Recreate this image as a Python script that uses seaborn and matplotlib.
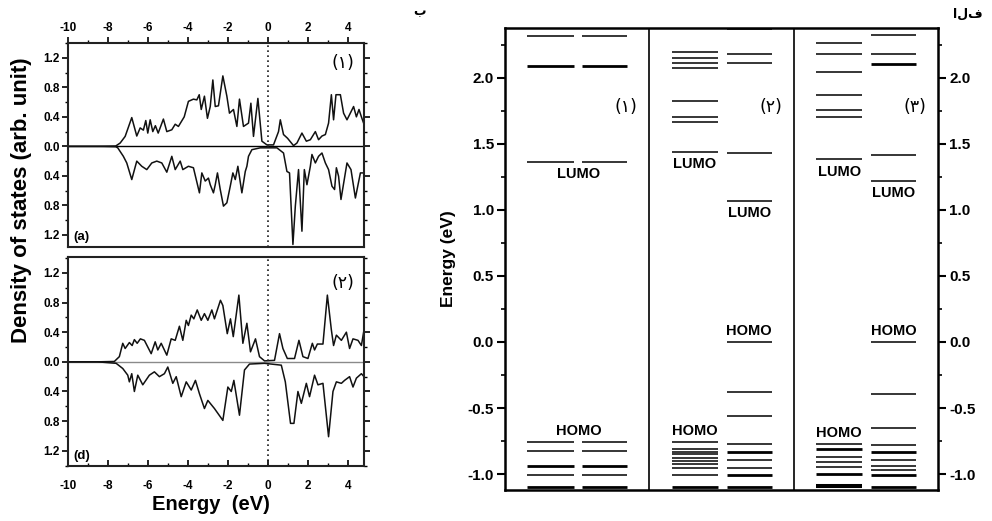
import numpy as np
import pandas as pd
import matplotlib
matplotlib.use("Agg")
import matplotlib.pyplot as plt
import seaborn as sns
from matplotlib.ticker import MultipleLocator, FixedLocator, FixedFormatter

sns.set_theme(style="ticks")
plt.rcParams['font.family'] = ['Liberation Sans', 'DejaVu Sans']
plt.rcParams['font.weight'] = 'bold'
plt.rcParams['axes.labelweight'] = 'bold'
plt.rcParams['axes.unicode_minus'] = False
for key in ('text.color', 'axes.labelcolor', 'xtick.color', 'ytick.color', 'axes.edgecolor'):
    plt.rcParams[key] = 'black'

# ---------------- DOS data (energy eV, DOS) ----------------
dos_a_up = [(-10, 0), (-8.5, 0.0), (-7.6, 0.005), (-7.38, 0.045), (-7.13, 0.135), (-6.8, 0.39),
            (-6.55, 0.14), (-6.38, 0.25), (-6.22, 0.22), (-6.1, 0.35), (-6.0, 0.18), (-5.88, 0.36),
            (-5.75, 0.2), (-5.62, 0.28), (-5.48, 0.18), (-5.22, 0.37), (-5.05, 0.2), (-4.8, 0.225),
            (-4.63, 0.3), (-4.47, 0.27), (-4.18, 0.4), (-3.97, 0.61), (-3.72, 0.64), (-3.55, 0.63),
            (-3.43, 0.70), (-3.33, 0.5), (-3.25, 0.59), (-3.17, 0.68), (-3.02, 0.38), (-2.88, 0.54),
            (-2.75, 0.9), (-2.63, 0.54), (-2.47, 0.55), (-2.25, 0.955), (-2.05, 0.68), (-1.92, 0.45),
            (-1.72, 0.5), (-1.55, 0.27), (-1.42, 0.64), (-1.22, 0.27), (-0.97, 0.315), (-0.85, 0.585),
            (-0.72, 0.135), (-0.5, 0.65), (-0.3, 0.07), (-0.05, 0.02), (0.28, 0.02), (0.53, 0.2),
            (0.62, 0.36), (0.78, 0.16), (0.98, 0.11), (1.28, 0.01), (1.45, 0.045), (1.7, 0.18),
            (1.92, 0.07), (2.12, 0.09), (2.37, 0.2), (2.53, 0.09), (2.7, 0.14), (2.87, 0.16),
            (3.03, 0.315), (3.17, 0.70), (3.28, 0.36), (3.4, 0.70), (3.62, 0.70), (3.78, 0.45),
            (3.95, 0.36), (4.08, 0.43), (4.28, 0.54), (4.42, 0.4), (4.55, 0.5), (4.67, 0.4), (4.8, 0.3)]

dos_a_dn = [(-10, 0), (-8.5, 0.0), (-7.6, -0.005), (-7.5, -0.02), (-7.22, -0.135), (-7.05, -0.225),
            (-6.8, -0.45), (-6.55, -0.2), (-6.3, -0.27), (-6.05, -0.315), (-5.8, -0.225), (-5.55, -0.2),
            (-5.3, -0.225), (-5.05, -0.35), (-4.8, -0.135), (-4.63, -0.315), (-4.38, -0.2), (-4.25, -0.315),
            (-3.97, -0.27), (-3.72, -0.29), (-3.42, -0.63), (-3.3, -0.36), (-3.13, -0.47), (-2.97, -0.43),
            (-2.88, -0.52), (-2.72, -0.63), (-2.63, -0.52), (-2.52, -0.36), (-2.38, -0.585), (-2.22, -0.81),
            (-2.05, -0.765), (-1.88, -0.54), (-1.75, -0.36), (-1.63, -0.45), (-1.5, -0.27), (-1.3, -0.63),
            (-1.13, -0.34), (-1.05, -0.27), (-0.97, -0.135), (-0.8, -0.045), (-0.38, -0.02), (0.45, -0.02),
            (0.78, -0.09), (0.95, -0.34), (1.08, -0.36), (1.25, -1.33), (1.37, -0.81), (1.53, -0.315),
            (1.7, -1.15), (1.82, -0.315), (1.95, -0.52), (2.12, -0.27), (2.2, -0.11), (2.37, -0.225),
            (2.53, -0.135), (2.7, -0.09), (2.87, -0.225), (3.03, -0.315), (3.2, -0.54), (3.33, -0.585),
            (3.42, -0.29), (3.53, -0.405), (3.65, -0.72), (3.95, -0.225), (4.15, -0.315), (4.37, -0.70),
            (4.62, -0.36), (4.8, -0.36)]

dos_d_up = [(-10, 0), (-8.5, 0.0), (-7.67, 0.005), (-7.42, 0.07), (-7.25, 0.25), (-7.13, 0.18),
            (-6.92, 0.26), (-6.78, 0.22), (-6.67, 0.30), (-6.53, 0.25), (-6.37, 0.31), (-6.17, 0.29),
            (-5.83, 0.11), (-5.63, 0.27), (-5.5, 0.16), (-5.33, 0.25), (-5.05, 0.09), (-4.83, 0.31),
            (-4.63, 0.29), (-4.42, 0.48), (-4.25, 0.29), (-4.08, 0.56), (-3.97, 0.49), (-3.83, 0.63),
            (-3.7, 0.58), (-3.53, 0.70), (-3.33, 0.56), (-3.17, 0.65), (-3.0, 0.56), (-2.8, 0.70),
            (-2.67, 0.58), (-2.37, 0.83), (-2.25, 0.76), (-2.03, 0.38), (-1.87, 0.58), (-1.73, 0.34),
            (-1.45, 0.90), (-1.25, 0.25), (-1.05, 0.52), (-0.87, 0.135), (-0.62, 0.31), (-0.42, 0.07),
            (-0.17, 0.013), (0.33, 0.02), (0.58, 0.38), (0.75, 0.18), (0.97, 0.045), (1.33, 0.045),
            (1.55, 0.29), (1.75, 0.07), (2.0, 0.045), (2.22, 0.25), (2.33, 0.16), (2.47, 0.24),
            (2.75, 0.24), (2.97, 0.90), (3.17, 0.43), (3.28, 0.22), (3.42, 0.36), (3.67, 0.29),
            (3.92, 0.40), (4.08, 0.18), (4.25, 0.31), (4.5, 0.29), (4.67, 0.22), (4.8, 0.43)]

dos_d_dn = [(-10, 0), (-8.5, 0.0), (-7.58, -0.02), (-7.25, -0.09), (-7.0, -0.18), (-6.92, -0.27),
            (-6.8, -0.16), (-6.67, -0.40), (-6.5, -0.18), (-6.25, -0.31), (-5.92, -0.18), (-5.67, -0.135),
            (-5.42, -0.2), (-5.17, -0.16), (-5.0, -0.07), (-4.75, -0.29), (-4.58, -0.2), (-4.33, -0.47),
            (-4.08, -0.27), (-3.83, -0.38), (-3.62, -0.25), (-3.42, -0.43), (-3.17, -0.63), (-3.0, -0.52),
            (-2.67, -0.63), (-2.25, -0.79), (-2.0, -0.34), (-1.83, -0.40), (-1.7, -0.25), (-1.42, -0.72),
            (-1.17, -0.11), (-0.92, -0.03), (-0.17, -0.02), (0.67, -0.045), (0.87, -0.27), (1.13, -0.83),
            (1.3, -0.83), (1.5, -0.40), (1.67, -0.56), (1.92, -0.29), (2.08, -0.47), (2.33, -0.18),
            (2.5, -0.31), (2.75, -0.29), (3.03, -1.01), (3.25, -0.40), (3.42, -0.27), (3.67, -0.29),
            (3.83, -0.25), (4.08, -0.2), (4.25, -0.34), (4.42, -0.22), (4.67, -0.16), (4.8, -0.2)]

dos_ticks = [-10, -8, -6, -4, -2, 0, 2, 4]
dos_yticks = [-1.2, -0.8, -0.4, 0.0, 0.4, 0.8, 1.2]
dos_yticklabels = ["1.2", "0.8", "0.4", "0.0", "0.4", "0.8", "1.2"]

# ---------------- Energy levels (eV, degeneracy) ----------------
lv1_a = [(2.316, 1), (2.085, 2), (1.363, 1), (-0.757, 1), (-0.825, 1), (-0.94, 2), (-1.007, 1), (-1.10, 2)]
lv1_b = [(2.316, 1), (2.085, 2), (1.363, 1), (-0.757, 1), (-0.825, 1), (-0.94, 2), (-1.007, 1), (-1.10, 2)]
lv2_a = [(2.19, 1), (2.145, 1), (2.11, 1), (2.07, 1), (1.82, 1), (1.705, 1), (1.667, 1), (1.44, 1),
         (-0.757, 1), (-0.81, 1), (-0.83, 1), (-0.85, 1), (-0.875, 1), (-0.90, 1), (-0.925, 1),
         (-0.95, 1), (-1.007, 1), (-1.10, 2)]
lv2_b = [(2.366, 1), (2.178, 1), (2.113, 1), (1.43, 1), (1.07, 1), (0.0, 1), (-0.38, 1), (-0.56, 1),
         (-0.77, 1), (-0.83, 2), (-0.895, 1), (-0.95, 1), (-1.007, 2), (-1.095, 2)]
lv3_a = [(2.265, 1), (2.178, 1), (2.045, 1), (1.865, 1), (1.757, 1), (1.70, 1), (1.383, 1),
         (-0.77, 1), (-0.81, 2), (-0.87, 1), (-0.91, 1), (-0.945, 1), (-1.0, 2), (-1.09, 3)]
lv3_b = [(2.32, 1), (2.178, 1), (2.10, 2), (1.416, 1), (1.218, 1), (0.0, 1), (-0.393, 1), (-0.654, 1),
         (-0.78, 1), (-0.83, 2), (-0.89, 1), (-0.94, 1), (-0.97, 1), (-1.007, 2), (-1.095, 2)]

lumo = [(1.363, 1.363), (1.44, 1.07), (1.383, 1.218)]
homo = [(-0.757, -0.757), (-0.757, 0.0), (-0.77, 0.0)]
panel_names = ["(\u0661)", "(\u0662)", "(\u0663)"]
energy_ticks = [-1.0, -0.5, 0.0, 0.5, 1.0, 1.5, 2.0]

# ---------------- Figure ----------------
W, H = 992, 521
fig = plt.figure(figsize=(W / 100, H / 100), dpi=100)

def fa(x0, y0, x1, y1):
    return [x0 / W, 1 - y1 / H, (x1 - x0) / W, (y1 - y0) / H]

ax_a = fig.add_axes(fa(67.7, 42.7, 364, 246.7))
ax_d = fig.add_axes(fa(67.7, 257.3, 364, 466))
ax_e = fig.add_axes(fa(505, 28, 938, 490))

def draw_dos(ax, up, dn, zero_color, ylim):
    df_up = pd.DataFrame(up, columns=["E", "D"])
    df_dn = pd.DataFrame(dn, columns=["E", "D"])
    ax.axhline(0, color=zero_color, lw=1.0, zorder=1)
    sns.lineplot(data=df_up, x="E", y="D", ax=ax, color="#111111", lw=1.1, sort=False, estimator=None)
    sns.lineplot(data=df_dn, x="E", y="D", ax=ax, color="#111111", lw=1.1, sort=False, estimator=None)
    ax.axvline(0, color="k", lw=1.2, ls=(0, (1, 2)))
    ax.set_xlim(-10, 4.8)
    ax.set_ylim(*ylim)
    ax.set_xlabel("")
    ax.set_ylabel("")
    ax.xaxis.set_major_locator(FixedLocator(dos_ticks))
    ax.xaxis.set_minor_locator(MultipleLocator(1))
    ax.yaxis.set_major_locator(FixedLocator(dos_yticks))
    ax.yaxis.set_major_formatter(FixedFormatter(dos_yticklabels))
    ax.yaxis.set_minor_locator(MultipleLocator(0.2))
    for s in ax.spines.values():
        s.set_linewidth(1.5)
        s.set_color("#222222")
    ax.tick_params(axis="y", which="major", direction="out", length=4, width=1.2, labelsize=8.5, pad=1.5)
    ax.tick_params(axis="y", which="minor", direction="out", length=2, width=1.0)
    ax.tick_params(axis="y", which="both", right=True, labelright=False)

draw_dos(ax_a, dos_a_up, dos_a_dn, "black", (-1.36, 1.405))
draw_dos(ax_d, dos_d_up, dos_d_dn, "#8a8a8a", (-1.405, 1.41))

ax_a.tick_params(axis="x", which="both", top=True, bottom=False, labeltop=True, labelbottom=False,
                 direction="out")
ax_a.tick_params(axis="x", which="major", length=4, width=1.2, labelsize=8.5, pad=2)
ax_a.tick_params(axis="x", which="minor", length=2, width=1.0)
ax_d.tick_params(axis="x", which="both", top=False, bottom=True, direction="in")
ax_d.tick_params(axis="x", which="major", length=4, width=1.2, labelsize=8.5, pad=10)
ax_d.tick_params(axis="x", which="minor", length=2, width=1.0)
for ax in (ax_a, ax_d):
    for lab in ax.get_xticklabels() + ax.get_yticklabels():
        lab.set_fontweight("bold")

ax_a.text(0.018, 0.02, "(a)", transform=ax_a.transAxes, fontsize=9.5, fontweight="bold", ha="left", va="bottom")
ax_d.text(0.018, 0.02, "(d)", transform=ax_d.transAxes, fontsize=9.5, fontweight="bold", ha="left", va="bottom")
ax_a.text(3.77, 1.13, panel_names[0], fontsize=12.5, fontweight="normal", ha="center", va="center",
          family=["DejaVu Sans"])
ax_d.text(3.77, 1.07, panel_names[1], fontsize=12.5, fontweight="normal", ha="center", va="center",
          family=["DejaVu Sans"])

fig.text(22 / W, 1 - 200 / H, "Density of states (arb. unit)", rotation=90, fontsize=16,
         fontweight="bold", ha="center", va="center")
fig.text(211 / W, 1 - 504 / H, "Energy  (eV)", fontsize=14.5, fontweight="bold", ha="center", va="center")

# ---------------- Energy level diagram ----------------
col_span = [(0.155, 0.475), (0.535, 0.847)]
panels = [(lv1_a, lv1_b), (lv2_a, lv2_b), (lv3_a, lv3_b)]
for p, cols in enumerate(panels):
    for c, lv in enumerate(cols):
        x0, x1 = p + col_span[c][0], p + col_span[c][1]
        for e, g in lv:
            ax_e.hlines(e, x0, x1, color="black", lw=1.1 + 0.9 * (g - 1))

for xdiv in (1, 2):
    ax_e.axvline(xdiv, color="black", lw=1.2)

lab_kw = dict(fontsize=10.5, fontweight="bold", ha="center", textcoords="offset points")
ax_e.annotate("LUMO", xy=(0.51, lumo[0][0]), xytext=(0, -4), va="top", **lab_kw)
ax_e.annotate("HOMO", xy=(0.51, homo[0][0]), xytext=(0, 3), va="bottom", **lab_kw)
for p in (1, 2):
    for c in (0, 1):
        xc = p + 0.5 * (col_span[c][0] + col_span[c][1])
        ax_e.annotate("LUMO", xy=(xc, lumo[p][c]), xytext=(0, -4), va="top", **lab_kw)
        ax_e.annotate("HOMO", xy=(xc, homo[p][c]), xytext=(0, 3), va="bottom", **lab_kw)

for p in range(3):
    ax_e.text(p + 0.84, 1.78, panel_names[p], fontsize=12.5, fontweight="normal", ha="center",
              va="center", family=["DejaVu Sans"])

ax_e.set_xlim(0, 3)
ax_e.set_ylim(-1.12, 2.375)
ax_e.set_xticks([])
ax_e.yaxis.set_major_locator(FixedLocator(energy_ticks))
ax_e.yaxis.set_minor_locator(MultipleLocator(0.25))
ax_e.tick_params(axis="y", which="both", left=True, right=True, labelleft=True, labelright=True,
                 direction="out")
ax_e.tick_params(axis="y", which="major", length=6, width=1.5, labelsize=11, pad=2)
ax_e.tick_params(axis="y", which="minor", length=3, width=1.2)
for lab in ax_e.get_yticklabels():
    lab.set_fontweight("bold")
for s in ax_e.spines.values():
    s.set_linewidth(1.8)
    s.set_color("black")
ax_e.set_ylabel("Energy (eV)", fontsize=12.5, fontweight="bold", labelpad=8)

fig.text(420 / W, 1 - 12 / H, "\u0628", fontsize=9, fontweight="bold", ha="center", va="center",
         family=["DejaVu Sans"])
fig.text(968 / W, 1 - 14 / H, "\u0627\u0644\u0641", fontsize=9, fontweight="bold", ha="center",
         va="center", family=["DejaVu Sans"])

fig.savefig("out.png", dpi=100)
